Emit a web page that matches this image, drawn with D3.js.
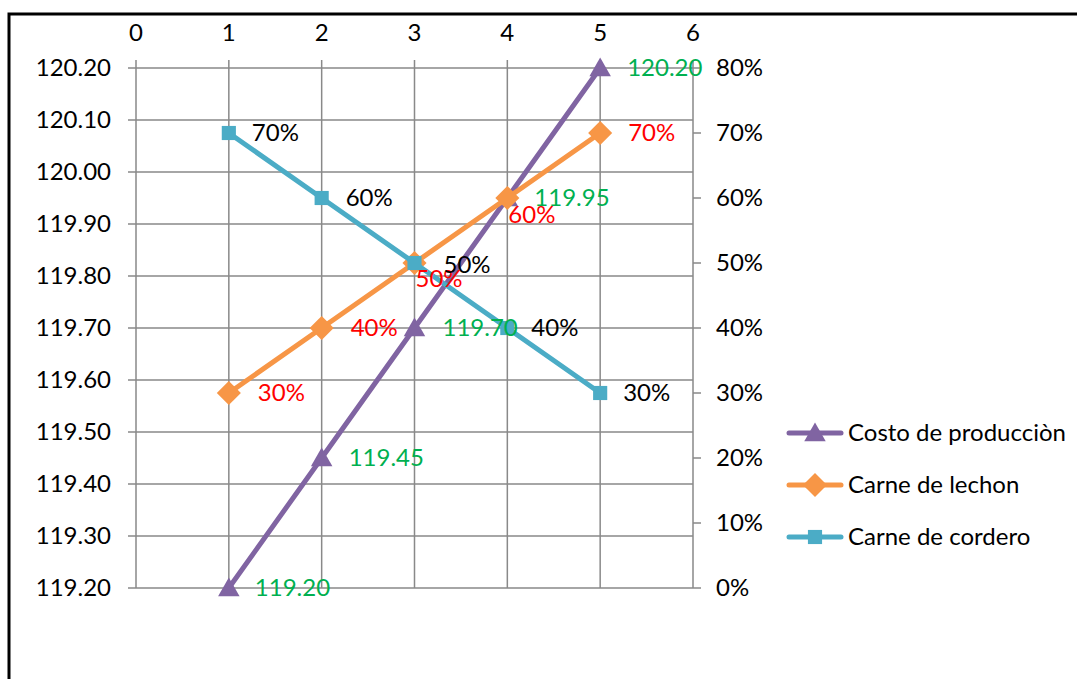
<!DOCTYPE html>
<html>
<head>
<meta charset="utf-8">
<script src="https://cdn.jsdelivr.net/npm/d3@7"></script>
<style>
  body{margin:0;background:#fff;}
  svg text{font-family:Lato,"Open Sans",sans-serif;font-size:24px;}
</style>
</head>
<body>
<svg id="chart" width="1077" height="679"></svg>
<script>
// data
const xs=[1,2,3,4,5];
const costo=[119.20,119.45,119.70,119.95,120.20];
const lechon=[0.30,0.40,0.50,0.60,0.70];
const cordero=[0.70,0.60,0.50,0.40,0.30];
const xTicks=[0,1,2,3,4,5,6];
const leftTicks=[119.2,119.3,119.4,119.5,119.6,119.7,119.8,119.9,120.0,120.1,120.2];
const rightTicks=[0,0.1,0.2,0.3,0.4,0.5,0.6,0.7,0.8];
const names=['Costo de producciòn','Carne de lechon','Carne de cordero'];

const svg=d3.select('#chart');
const gridColor='#898989';

const x=d3.scaleLinear().domain([0,6]).range([136,693]);
const yL=d3.scaleLinear().domain([119.2,120.2]).range([588,68]);
const yR=d3.scaleLinear().domain([0,0.8]).range([588,68]);

// outer frame (only top and left are inside the picture)
svg.append('path').attr('d','M9,679 V14 H1077').attr('fill','none').attr('stroke','#000').attr('stroke-width',3);

// horizontal grid + left labels
const gl=svg.append('g');
gl.selectAll('line').data(leftTicks).join('line')
  .attr('x1',128).attr('x2',x(6)).attr('y1',d=>yL(d)).attr('y2',d=>yL(d))
  .attr('stroke',gridColor).attr('stroke-width',1.5);
gl.selectAll('text').data(leftTicks).join('text')
  .attr('x',111).attr('y',d=>yL(d)).attr('dy','0.35em').attr('text-anchor','end')
  .text(d=>d3.format('.2f')(d));

// vertical grid + top labels
const gt=svg.append('g');
gt.selectAll('line').data(xTicks).join('line')
  .attr('x1',d=>x(d)).attr('x2',d=>x(d)).attr('y1',60).attr('y2',588)
  .attr('stroke',gridColor).attr('stroke-width',1.5);
gt.selectAll('text').data(xTicks).join('text')
  .attr('x',d=>x(d)).attr('y',33).attr('dy','0.35em').attr('text-anchor','middle')
  .text(d=>d);

// right axis ticks + labels
const gr=svg.append('g');
gr.selectAll('line').data(rightTicks).join('line')
  .attr('x1',x(6)).attr('x2',x(6)+8).attr('y1',d=>yR(d)).attr('y2',d=>yR(d))
  .attr('stroke',gridColor).attr('stroke-width',1.5);
gr.selectAll('text').data(rightTicks).join('text')
  .attr('x',716).attr('y',d=>yR(d)).attr('dy','0.35em')
  .text(d=>d3.format('.0%')(d));

const series=[
  {name:names[0],vals:costo,y:yL,color:'#8064A2',marker:'triangle',lab:'#00B050',fmt:d3.format('.2f')},
  {name:names[1],vals:lechon,y:yR,color:'#F79646',marker:'diamond',lab:'#FF0000',fmt:d3.format('.0%')},
  {name:names[2],vals:cordero,y:yR,color:'#4BACC6',marker:'square',lab:'#000',fmt:d3.format('.0%')}
];
const sym={
  triangle:d3.symbol(d3.symbolTriangle,200),
  diamond:d3.symbol(d3.symbolSquare,290),
  square:d3.symbol(d3.symbolSquare,200)
};
const rot={triangle:'',diamond:' rotate(45)',square:''};
// label offsets (layout)
const labOff=[
  [[26,0],[27,0],[28,0],[27,0],[27,0]],
  [[29,0],[29,0],[1,16],[1,17],[28,0]],
  [[23,0],[24,0],[29,2],[24,0],[23,0]]
];

series.forEach(s=>{
  const line=d3.line().x((d,i)=>x(xs[i])).y(d=>s.y(d));
  svg.append('path').datum(s.vals).attr('d',line)
    .attr('fill','none').attr('stroke',s.color).attr('stroke-width',5).attr('stroke-linejoin','round');
  svg.append('g').selectAll('path').data(s.vals).join('path')
    .attr('d',sym[s.marker]())
    .attr('transform',(d,i)=>{
      const dy=s.marker==='triangle'?2:0;
      return 'translate('+x(xs[i])+','+(s.y(d)+dy)+')'+rot[s.marker];
    })
    .attr('fill',s.color);
});

series.forEach((s,k)=>{
  svg.append('g').selectAll('text').data(s.vals).join('text')
    .attr('x',(d,i)=>x(xs[i])+labOff[k][i][0])
    .attr('y',(d,i)=>s.y(d)+labOff[k][i][1])
    .attr('dy','0.35em').attr('fill',s.lab)
    .text(d=>s.fmt(d));
});

// legend
const leg=svg.append('g').selectAll('g').data(series).join('g')
  .attr('transform',(d,i)=>'translate(789,'+(433+i*52)+')');
leg.append('line').attr('x1',0).attr('x2',52).attr('stroke',d=>d.color)
  .attr('stroke-width',5).attr('stroke-linecap','round');
leg.append('path').attr('d',d=>sym[d.marker]())
  .attr('transform',d=>'translate(26,'+(d.marker==='triangle'?2:0)+')'+rot[d.marker])
  .attr('fill',d=>d.color);
leg.append('text').attr('x',59).attr('dy','0.35em').text(d=>d.name);
</script>
</body>
</html>
